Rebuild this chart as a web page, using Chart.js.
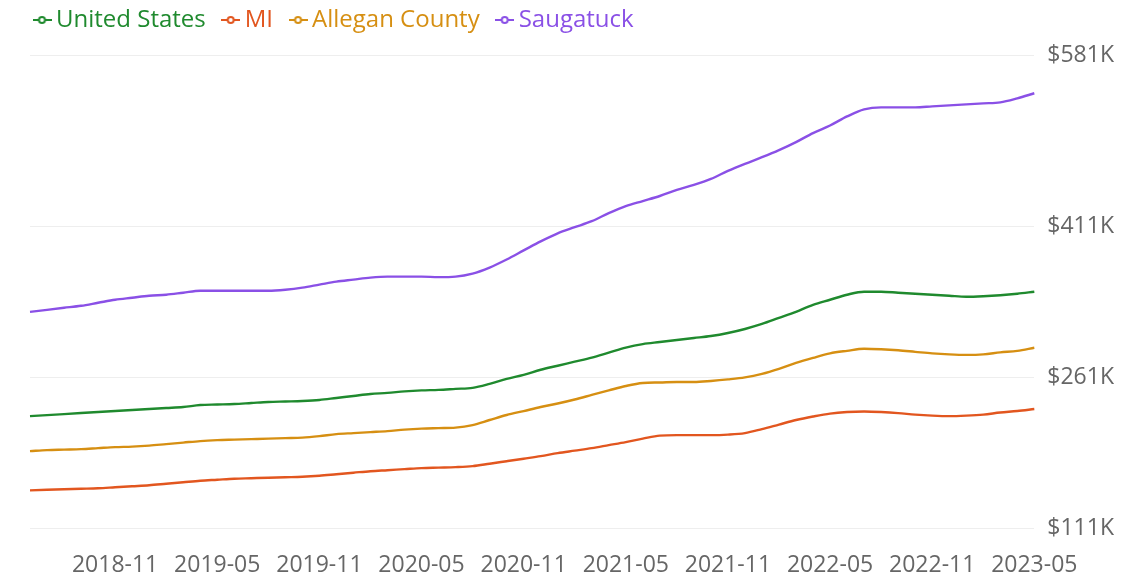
<!DOCTYPE html>
<html>
<head>
<meta charset="utf-8">
<script src="https://cdn.jsdelivr.net/npm/chart.js@4"></script>
<style>
  html, body { margin: 0; padding: 0; background: #fff; }
  #wrap { width: 1137px; height: 583px; }
</style>
</head>
<body>
<div id="wrap"><canvas id="priceChart"></canvas></div>
<script>
// Monthly labels, 2018-06 .. 2023-05
const months = [
  '2018-06','2018-07','2018-08','2018-09','2018-10','2018-11','2018-12',
  '2019-01','2019-02','2019-03','2019-04','2019-05','2019-06','2019-07','2019-08','2019-09','2019-10','2019-11','2019-12',
  '2020-01','2020-02','2020-03','2020-04','2020-05','2020-06','2020-07','2020-08','2020-09','2020-10','2020-11','2020-12',
  '2021-01','2021-02','2021-03','2021-04','2021-05','2021-06','2021-07','2021-08','2021-09','2021-10','2021-11','2021-12',
  '2022-01','2022-02','2022-03','2022-04','2022-05','2022-06','2022-07','2022-08','2022-09','2022-10','2022-11','2022-12',
  '2023-01','2023-02','2023-03','2023-04','2023-05'
];

// values in $K
const unitedStates = [
  222.5, 223.5, 224.5, 225.5, 226.5, 227.5, 228.5, 229.5, 230.5, 231.5,
  233.5, 234, 234.5, 235.5, 236.5, 237, 237.5, 238.5, 240.5, 242.5,
  244.5, 245.5, 247, 248, 248.5, 249.5, 250.5, 254.5, 259.5, 263.5,
  268.5, 272.5, 276.5, 280.5, 285.5, 290.5, 294, 296, 298, 300,
  302, 305, 309, 314, 320, 326, 333, 338, 343, 346,
  346, 345, 344, 343, 342, 341, 341.5, 342.5, 344, 346
];
const michigan = [
  148.8, 149.3, 149.8, 150.3, 150.8, 151.8, 152.8, 153.8, 155.3, 156.8,
  158.3, 159.3, 160.3, 160.8, 161.3, 161.8, 162.3, 163.3, 164.8, 166.3,
  167.8, 168.8, 169.8, 170.8, 171.3, 171.8, 172.8, 175.2, 177.7, 180.2,
  182.7, 185.7, 188.2, 190.7, 193.7, 196.7, 200.1, 203.1, 203.6, 203.6,
  203.6, 204.1, 205.6, 209.6, 214.1, 218.6, 222.1, 225, 226.5, 227,
  226.5, 225.5, 224, 223, 222.5, 223, 224, 226, 227.5, 229.5
];
const alleganCounty = [
  187.7, 188.7, 189.2, 189.7, 190.7, 191.7, 192.2, 193.2, 194.7, 196.2,
  197.7, 198.6, 199.1, 199.6, 200.1, 200.6, 201.1, 202.6, 204.6, 205.6,
  206.6, 207.6, 209.1, 210.1, 210.6, 211.1, 213.6, 218.6, 223.6, 227.5,
  231.5, 235, 239, 243.5, 248, 252.4, 255.4, 255.9, 256.4, 256.4,
  257.4, 258.9, 260.9, 264.4, 269.4, 275.3, 280.3, 284.8, 287.3, 289.3,
  288.8, 287.8, 286.3, 284.8, 283.8, 283.3, 283.8, 285.8, 287.3, 290.3
];
const saugatuck = [
  326, 328, 330, 332, 335, 338, 340, 342, 343, 345,
  347, 347, 347, 347, 347, 348, 350, 353, 356, 358,
  360, 361, 361, 361, 360.5, 361, 364, 370, 378, 387,
  396, 404, 410, 416, 424, 431, 436, 441, 447, 452,
  458, 466, 473, 479.5, 486.5, 494.5, 503.5, 511, 520, 527,
  529, 529, 529, 530, 531, 532, 533, 534, 538, 543
];
const yTicks = [111, 261, 411, 581];

const seriesNames = ['United States', 'MI', 'Allegan County', 'Saugatuck'];
const seriesColors = ['#1f8a2e', '#e2561f', '#d68f12', '#8a50e6'];

const FONT = 'Open Sans';

// little "-o-" marker for the legend
function legendMarker(color) {
  const c = document.createElement('canvas');
  c.width = 19; c.height = 10;
  const g = c.getContext('2d');
  g.strokeStyle = color;
  g.lineWidth = 2;
  g.beginPath(); g.moveTo(0, 5); g.lineTo(19, 5); g.stroke();
  g.fillStyle = '#fff';
  g.beginPath(); g.arc(9.5, 5, 3, 0, Math.PI * 2); g.fill(); g.stroke();
  return c;
}

// give the legend some extra room underneath
const legendGap = {
  id: 'legendGap',
  beforeInit(chart) {
    const origFit = chart.legend.fit;
    chart.legend.fit = function() {
      origFit.bind(chart.legend)();
      this.height += 13;
    };
  }
};

const allSeries = [unitedStates, michigan, alleganCounty, saugatuck];
const datasets = allSeries.map((vals, i) => ({
  label: seriesNames[i],
  data: vals,
  yAxisID: 'y',
  borderColor: seriesColors[i],
  backgroundColor: seriesColors[i],
  borderWidth: 2.4,
  pointRadius: 0,
  pointHoverRadius: 0,
  cubicInterpolationMode: 'monotone',
  fill: false
}));

const ctx = document.getElementById('priceChart').getContext('2d');
new Chart(ctx, {
  type: 'line',
  data: { labels: months, datasets: datasets },
  plugins: [legendGap],
  options: {
    responsive: true,
    maintainAspectRatio: false,
    animation: false,
    layout: { padding: { left: 17, right: 10, top: -15, bottom: -11 } },
    plugins: {
      tooltip: { enabled: false },
      legend: {
        position: 'top',
        align: 'start',
        labels: {
          usePointStyle: true,
          pointStyleWidth: 4,
          padding: 23,
          font: { family: FONT, size: 24 },
          generateLabels: function(chart) {
            return chart.data.datasets.map((ds, i) => ({
              text: ds.label,
              fontColor: seriesColors[i],
              pointStyle: legendMarker(seriesColors[i]),
              strokeStyle: seriesColors[i],
              fillStyle: seriesColors[i],
              lineWidth: 0,
              hidden: false,
              datasetIndex: i
            }));
          }
        }
      }
    },
    scales: {
      x: {
        grid: { display: false },
        border: { display: false },
        ticks: {
          autoSkip: false,
          maxRotation: 0,
          padding: 15,
          color: '#666',
          font: { family: FONT, size: 23 },
          callback: function(value, index) {
            const m = months[index];
            return (m.endsWith('-05') || m.endsWith('-11')) ? m : null;
          }
        }
      },
      y: {
        position: 'right',
        min: 111,
        max: 581,
        afterBuildTicks: function(axis) {
          axis.ticks = yTicks.map(v => ({ value: v }));
        },
        grid: { color: '#eeeeee', drawTicks: false },
        border: { display: false },
        ticks: {
          color: '#666',
          padding: 13,
          font: { family: FONT, size: 23 },
          callback: v => '$' + v + 'K'
        }
      },
      // empty spacer on the left so the plot starts a bit right of the legend
      spacer: {
        type: 'linear',
        position: 'left',
        display: true,
        grid: { display: false },
        border: { display: false },
        ticks: { display: false },
        afterFit: function(axis) { axis.width = 13; }
      }
    }
  }
});
</script>
</body>
</html>
